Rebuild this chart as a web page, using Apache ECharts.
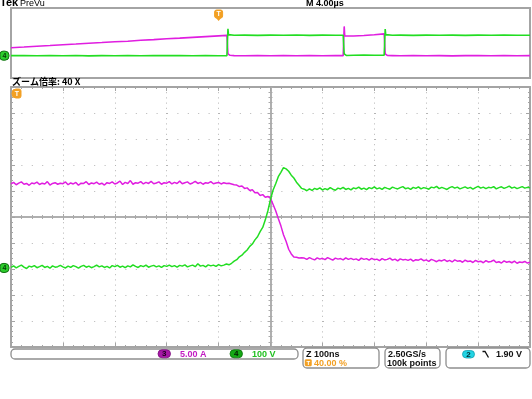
<!DOCTYPE html>
<html><head><meta charset="utf-8">
<script src="https://cdn.jsdelivr.net/npm/echarts@6/dist/echarts.min.js"></script>
<style>html,body{margin:0;padding:0;background:#fff}#c{width:532px;height:399px}</style>
</head><body><div id="c"></div><script>
// ---- zoom window (100 ns/div, 10 div), sampled every 5 ns ----
const mainStartNs = -500;
const mainStepNs = 5;
// Ch3 current, in divisions
const magMain = [
1.27,1.33,1.24,1.30,1.35,1.26,1.29,1.22,1.31,1.28,1.34,1.25,1.30,1.27,1.36,1.23,1.29,1.32,1.26,1.30,
1.28,1.35,1.24,1.31,1.27,1.33,1.22,1.30,1.29,1.36,1.25,1.31,1.28,1.34,1.26,1.30,1.23,1.32,1.29,1.35,
1.27,1.31,1.38,1.25,1.33,1.29,1.40,1.26,1.32,1.30,1.36,1.27,1.33,1.29,1.37,1.28,1.31,1.35,1.26,1.32,
1.30,1.36,1.27,1.33,1.29,1.38,1.28,1.32,1.35,1.27,1.31,1.37,1.29,1.33,1.26,1.32,1.30,1.36,1.28,1.31,
1.33,1.27,1.32,1.29,1.30,
1.27,1.24,1.23,1.17,1.19,1.10,1.12,1.02,1.05,0.93,0.94,0.83,0.86,0.76,0.79,0.72,0.48,0.24,-0.06,-0.34,-0.68,-0.93,-1.24,-1.42,-1.54,-1.55,-1.58,-1.57,
-1.58,-1.63,-1.56,-1.61,-1.65,-1.57,-1.62,-1.59,-1.64,-1.56,-1.61,-1.66,-1.58,-1.62,-1.60,-1.65,-1.57,-1.63,-1.59,-1.64,
-1.61,-1.67,-1.58,-1.63,-1.60,-1.66,-1.59,-1.64,-1.62,-1.68,-1.60,-1.65,-1.63,-1.58,-1.66,-1.62,-1.69,-1.61,-1.65,-1.63,
-1.67,-1.62,-1.70,-1.64,-1.66,-1.61,-1.68,-1.65,-1.71,-1.63,-1.67,-1.72,-1.66,-1.69,-1.64,-1.71,-1.67,-1.73,-1.65,-1.70,
-1.68,-1.74,-1.66,-1.71,-1.69,-1.75,-1.67,-1.72,-1.70,-1.76,-1.68,-1.73,-1.71,-1.66,-1.75,-1.72,-1.77,-1.69,-1.74,-1.71,
-1.76,-1.70,-1.78,-1.73,-1.75,-1.71,-1.77,-1.74
];
// Ch4 voltage, in divisions
const grnMain = [
-1.94,-1.88,-1.96,-1.90,-1.85,-1.93,-1.98,-1.89,-1.92,-1.87,-1.95,-1.91,-1.86,-1.94,-1.90,-1.97,-1.88,-1.93,-1.91,-1.86,
-1.92,-1.96,-1.89,-1.94,-1.87,-1.91,-1.97,-1.90,-1.86,-1.93,-1.89,-1.95,-1.91,-1.85,-1.92,-1.88,-1.94,-1.90,-1.96,-1.87,
-1.91,-1.86,-1.93,-1.89,-1.95,-1.88,-1.92,-1.84,-1.90,-1.94,-1.87,-1.91,-1.85,-1.93,-1.89,-1.86,-1.92,-1.88,-1.94,-1.87,
-1.90,-1.85,-1.91,-1.87,-1.93,-1.86,-1.89,-1.84,-1.92,-1.88,-1.85,-1.91,-1.80,-1.89,-1.86,-1.92,-1.84,-1.88,-1.85,-1.90,
-1.83,-1.88,-1.85,-1.81,-1.84,
-1.78,-1.70,-1.64,-1.53,-1.47,-1.36,-1.27,-1.13,-1.04,-0.88,-0.76,-0.56,-0.40,-0.11,0.24,0.68,1.04,1.28,1.55,1.72,1.90,1.85,1.76,1.61,1.50,1.34,1.22,1.10,1.07,1.01,
1.08,1.02,1.10,1.06,1.12,1.04,1.09,1.05,1.13,1.07,1.03,1.11,1.08,1.14,1.06,1.10,1.04,1.12,1.09,1.15,
1.07,1.11,1.05,1.13,1.09,1.16,1.08,1.12,1.06,1.14,1.10,1.07,1.15,1.11,1.08,1.13,1.17,1.09,1.12,1.06,
1.14,1.10,1.16,1.08,1.13,1.11,1.07,1.15,1.12,1.18,1.09,1.14,1.10,1.06,1.13,1.17,1.11,1.15,1.08,1.12,
1.16,1.10,1.14,1.07,1.13,1.18,1.11,1.15,1.09,1.14,1.12,1.17,1.08,1.13,1.16,1.10,1.14,1.19,1.11,1.15,
1.09,1.13,1.17,1.11,1.14,1.12
];
// ---- overview (PreVu) record, time in divisions ----
const ovTime = [0,0.25,0.5,0.75,1,1.25,1.5,1.75,2,2.25,2.5,2.75,3,3.25,3.5,3.75,4,4.16,4.18,4.19,4.22,4.3,4.5,4.75,5,5.25,5.5,5.75,6,6.25,6.4,6.42,6.43,6.46,6.6,6.8,7.0,7.19,7.21,7.22,7.25,7.35,7.5,7.75,8,8.25,8.5,8.75,9,9.25,9.5,9.75,10];
const ovMag = [-0.67,-0.58,-0.46,-0.36,-0.25,-0.15,-0.03,0.07,0.18,0.26,0.39,0.48,0.60,0.69,0.80,0.91,1.02,1.09,-1.55,-1.70,-1.76,-1.80,-1.82,-1.79,-1.83,-1.80,-1.82,-1.78,-1.83,-1.80,-1.81,2.37,1.00,0.92,1.00,1.08,1.18,1.30,-1.55,-1.70,-1.78,-1.80,-1.83,-1.79,-1.82,-1.80,-1.84,-1.81,-1.79,-1.83,-1.80,-1.82,-1.81];
const ovGrn = [-1.81,-1.78,-1.83,-1.80,-1.82,-1.79,-1.84,-1.80,-1.82,-1.78,-1.83,-1.80,-1.81,-1.79,-1.83,-1.80,-1.82,-1.81,2.04,1.20,1.12,1.10,1.13,1.09,1.12,1.10,1.14,1.09,1.12,1.10,1.11,-1.55,-1.72,-1.78,-1.75,-1.73,-1.76,-1.74,2.00,1.20,1.13,1.10,1.12,1.09,1.13,1.10,1.12,1.09,1.13,1.10,1.12,1.11,1.10];
// marker levels
const ch4LevelMain = -1.96;
const ch4LevelOv = -1.81;
const trigOv = 4.0;

const MAG = '#e01ee0', GRN = '#22dd22', FRAME = '#a4a4a4', DOT = '#b4b4b4', ORANGE = '#f2a024';

const chart = echarts.init(document.getElementById('c'), null, {renderer: 'canvas'});

function frameX(pos, split) {
  return {gridIndex: 1, type: 'value', min: -500, max: 500, interval: 100, position: pos,
    axisLine: {show: true, onZero: false, lineStyle: {color: FRAME, width: 2}},
    axisTick: {show: true, inside: true, length: 4, lineStyle: {color: FRAME, width: 1}},
    minorTick: {show: true, splitNumber: 5, length: 2, lineStyle: {color: FRAME, width: 1}},
    axisLabel: {show: false},
    splitLine: {show: split, lineStyle: {color: DOT, width: 1, type: [1, 4.2]}}};
}
function frameY(pos, split) {
  return {gridIndex: 1, type: 'value', min: -5, max: 5, interval: 1, position: pos,
    axisLine: {show: true, onZero: false, lineStyle: {color: FRAME, width: 2}},
    axisTick: {show: true, inside: true, length: 4, lineStyle: {color: FRAME, width: 1}},
    minorTick: {show: true, splitNumber: 5, length: 2, lineStyle: {color: FRAME, width: 1}},
    axisLabel: {show: false},
    splitLine: {show: split, lineStyle: {color: DOT, width: 1, type: [1, 9.4]}}};
}
function centerX(pos) {
  return {gridIndex: 1, type: 'value', min: -500, max: 500, interval: 100, position: pos,
    axisLine: {show: true, onZero: true, onZeroAxisIndex: 1, lineStyle: {color: '#aaaaaa', width: 1.5}},
    axisTick: {show: true, inside: false, length: 3, lineStyle: {color: '#aaaaaa', width: 1}},
    minorTick: {show: true, splitNumber: 5, length: 2, lineStyle: {color: '#aaaaaa', width: 1}},
    axisLabel: {show: false}, splitLine: {show: false}};
}
function centerY(pos) {
  return {gridIndex: 1, type: 'value', min: -5, max: 5, interval: 1, position: pos,
    axisLine: {show: true, onZero: true, onZeroAxisIndex: 1, lineStyle: {color: '#aaaaaa', width: 1.5}},
    axisTick: {show: true, inside: false, length: 3, lineStyle: {color: '#aaaaaa', width: 1}},
    minorTick: {show: true, splitNumber: 5, length: 2, lineStyle: {color: '#aaaaaa', width: 1}},
    axisLabel: {show: false}, splitLine: {show: false}};
}

const option = {
  animation: false,
  backgroundColor: '#fff',
  grid: [
    {left: 11, top: 8, width: 519, height: 70, show: true, borderColor: FRAME, borderWidth: 2, backgroundColor: 'transparent'},
    {left: 11, top: 87, width: 519, height: 260}
  ],
  xAxis: [
    {gridIndex: 0, type: 'value', min: 0, max: 10, show: false, axisLine: {onZero: false}},
    frameX('bottom', true), frameX('top', false), centerX('bottom'), centerX('top')
  ],
  yAxis: [
    {gridIndex: 0, type: 'value', min: -5, max: 5, show: false, axisLine: {onZero: false}},
    frameY('left', true), frameY('right', false), centerY('left'), centerY('right')
  ],
  series: [
    {type: 'line', xAxisIndex: 0, yAxisIndex: 0, showSymbol: false, symbol: 'none',
      data: ovTime.map((t, i) => [t, ovMag[i]]), lineStyle: {color: MAG, width: 1.6}, z: 3},
    {type: 'line', xAxisIndex: 0, yAxisIndex: 0, showSymbol: false, symbol: 'none',
      data: ovTime.map((t, i) => [t, ovGrn[i]]), lineStyle: {color: GRN, width: 1.6}, z: 4},
    {type: 'line', xAxisIndex: 1, yAxisIndex: 1, showSymbol: false, symbol: 'none',
      data: magMain.map((v, i) => [mainStartNs + i * mainStepNs, v]), lineStyle: {color: MAG, width: 1.5}, z: 3},
    {type: 'line', xAxisIndex: 1, yAxisIndex: 1, showSymbol: false, symbol: 'none',
      data: grnMain.map((v, i) => [mainStartNs + i * mainStepNs, v]), lineStyle: {color: GRN, width: 1.5}, z: 4}
  ]
};
chart.setOption(option);

function txt(x, y, s, color, font, align, va) {
  return {type: 'text', x: x, y: y, z: 50, style: {text: s, fill: color, font: font,
    textAlign: align || 'left', align: align || 'left', textVerticalAlign: va || 'middle', verticalAlign: va || 'middle'}};
}
function rect(x, y, w, h, r, fill, stroke, lw) {
  return {type: 'rect', z: 49, shape: {x: x, y: y, width: w, height: h, r: r},
    style: {fill: fill, stroke: stroke, lineWidth: lw || 1}};
}
const F9 = 'bold 9px "Liberation Sans", Arial, sans-serif';

const pMain4 = chart.convertToPixel({xAxisIndex: 1, yAxisIndex: 1}, [mainStartNs, ch4LevelMain]);
const pOv4 = chart.convertToPixel({xAxisIndex: 0, yAxisIndex: 0}, [0, ch4LevelOv]);
const pTrig = chart.convertToPixel({xAxisIndex: 0, yAxisIndex: 0}, [trigOv, 5]);
const pMainTL = chart.convertToPixel({xAxisIndex: 1, yAxisIndex: 1}, [mainStartNs, 5]);

const g = [
  txt(0, -2.5, 'Tek', '#000', 'bold 11px "Liberation Sans", Arial, sans-serif', 'left', 'top'),
  txt(20, -1, 'PreVu', '#000', '9px "Liberation Sans", Arial, sans-serif', 'left', 'top'),
  txt(306, -1, 'M 4.00µs', '#000', F9, 'left', 'top'),
  txt(12, 77, 'ズーム倍率: 40 X', '#000', 'bold 9px "Noto Sans CJK JP", sans-serif', 'left', 'top'),
  // ch4 markers
  rect(pOv4[0] - 11, pOv4[1] - 4.5, 9, 9, [3, 4, 4, 3], '#2ccc2c', '#127012', 1),
  txt(pOv4[0] - 6.5, pOv4[1] + 0.5, '4', '#063806', 'bold 7px "Liberation Sans", sans-serif', 'center'),
  rect(pMain4[0] - 11, pMain4[1] - 4.5, 9, 9, [3, 4, 4, 3], '#2ccc2c', '#127012', 1),
  txt(pMain4[0] - 6.5, pMain4[1] + 0.5, '4', '#063806', 'bold 7px "Liberation Sans", sans-serif', 'center'),
  // trigger markers
  rect(pTrig[0] - 4, pTrig[1] + 2, 8, 8, 2, ORANGE, ORANGE, 1),
  {type: 'polygon', z: 49, shape: {points: [[pTrig[0] - 3, pTrig[1] + 9.5], [pTrig[0] + 3, pTrig[1] + 9.5], [pTrig[0], pTrig[1] + 13]]}, style: {fill: ORANGE}},
  txt(pTrig[0], pTrig[1] + 6.5, 'T', '#fff', 'bold 7px "Liberation Sans", sans-serif', 'center'),
  rect(pMainTL[0] + 1, pMainTL[1] + 2, 9, 9, [4, 2, 2, 4], ORANGE, ORANGE, 1),
  txt(pMainTL[0] + 6, pMainTL[1] + 7, 'T', '#fff', 'bold 7px "Liberation Sans", sans-serif', 'center'),
  // status boxes
  rect(11, 349, 287, 10, 4, 'transparent', '#8e8e8e', 1.3),
  rect(303, 348, 76, 20, 4, 'transparent', '#8e8e8e', 1.3),
  rect(385, 348, 55, 20, 4, 'transparent', '#8e8e8e', 1.3),
  rect(446, 348, 84, 20, 4, 'transparent', '#8e8e8e', 1.3),
  rect(158, 349.8, 12.5, 8, 4, '#a616a6', '#7a0a7a', 0.8),
  txt(164.3, 354.2, '3', '#1a001a', 'bold 8px "Liberation Sans", sans-serif', 'center'),
  txt(180, 354.3, '5.00 A', '#c21cc2', F9),
  rect(230, 349.8, 12.5, 8, 4, '#14a814', '#0a700a', 0.8),
  txt(236.3, 354.2, '4', '#001a00', 'bold 8px "Liberation Sans", sans-serif', 'center'),
  txt(252, 354.3, '100 V', '#22c022', F9),
  txt(306, 354.3, 'Z 100ns', '#111', F9),
  rect(305, 359.5, 6.5, 6.5, 1, ORANGE, ORANGE, 0.5),
  txt(308.3, 363, 'T', '#fff', 'bold 6px "Liberation Sans", sans-serif', 'center'),
  txt(314, 363.2, '40.00 %', ORANGE, F9),
  txt(388, 354.3, '2.50GS/s', '#111', F9),
  txt(387, 363.2, '100k points', '#111', F9),
  rect(462.5, 350.5, 12, 7.5, 4, '#22d4e4', '#10a0b0', 0.8),
  txt(468.5, 354.5, '2', '#002a30', 'bold 8px "Liberation Sans", sans-serif', 'center'),
  {type: 'polyline', z: 49, shape: {points: [[482.5, 351.5], [485, 351.5], [488.5, 357.5]]}, style: {stroke: '#111', lineWidth: 1.3, fill: null}},
  txt(496, 354.3, '1.90 V', '#111', F9)
];
chart.setOption({graphic: {elements: g}});
</script></body></html>
